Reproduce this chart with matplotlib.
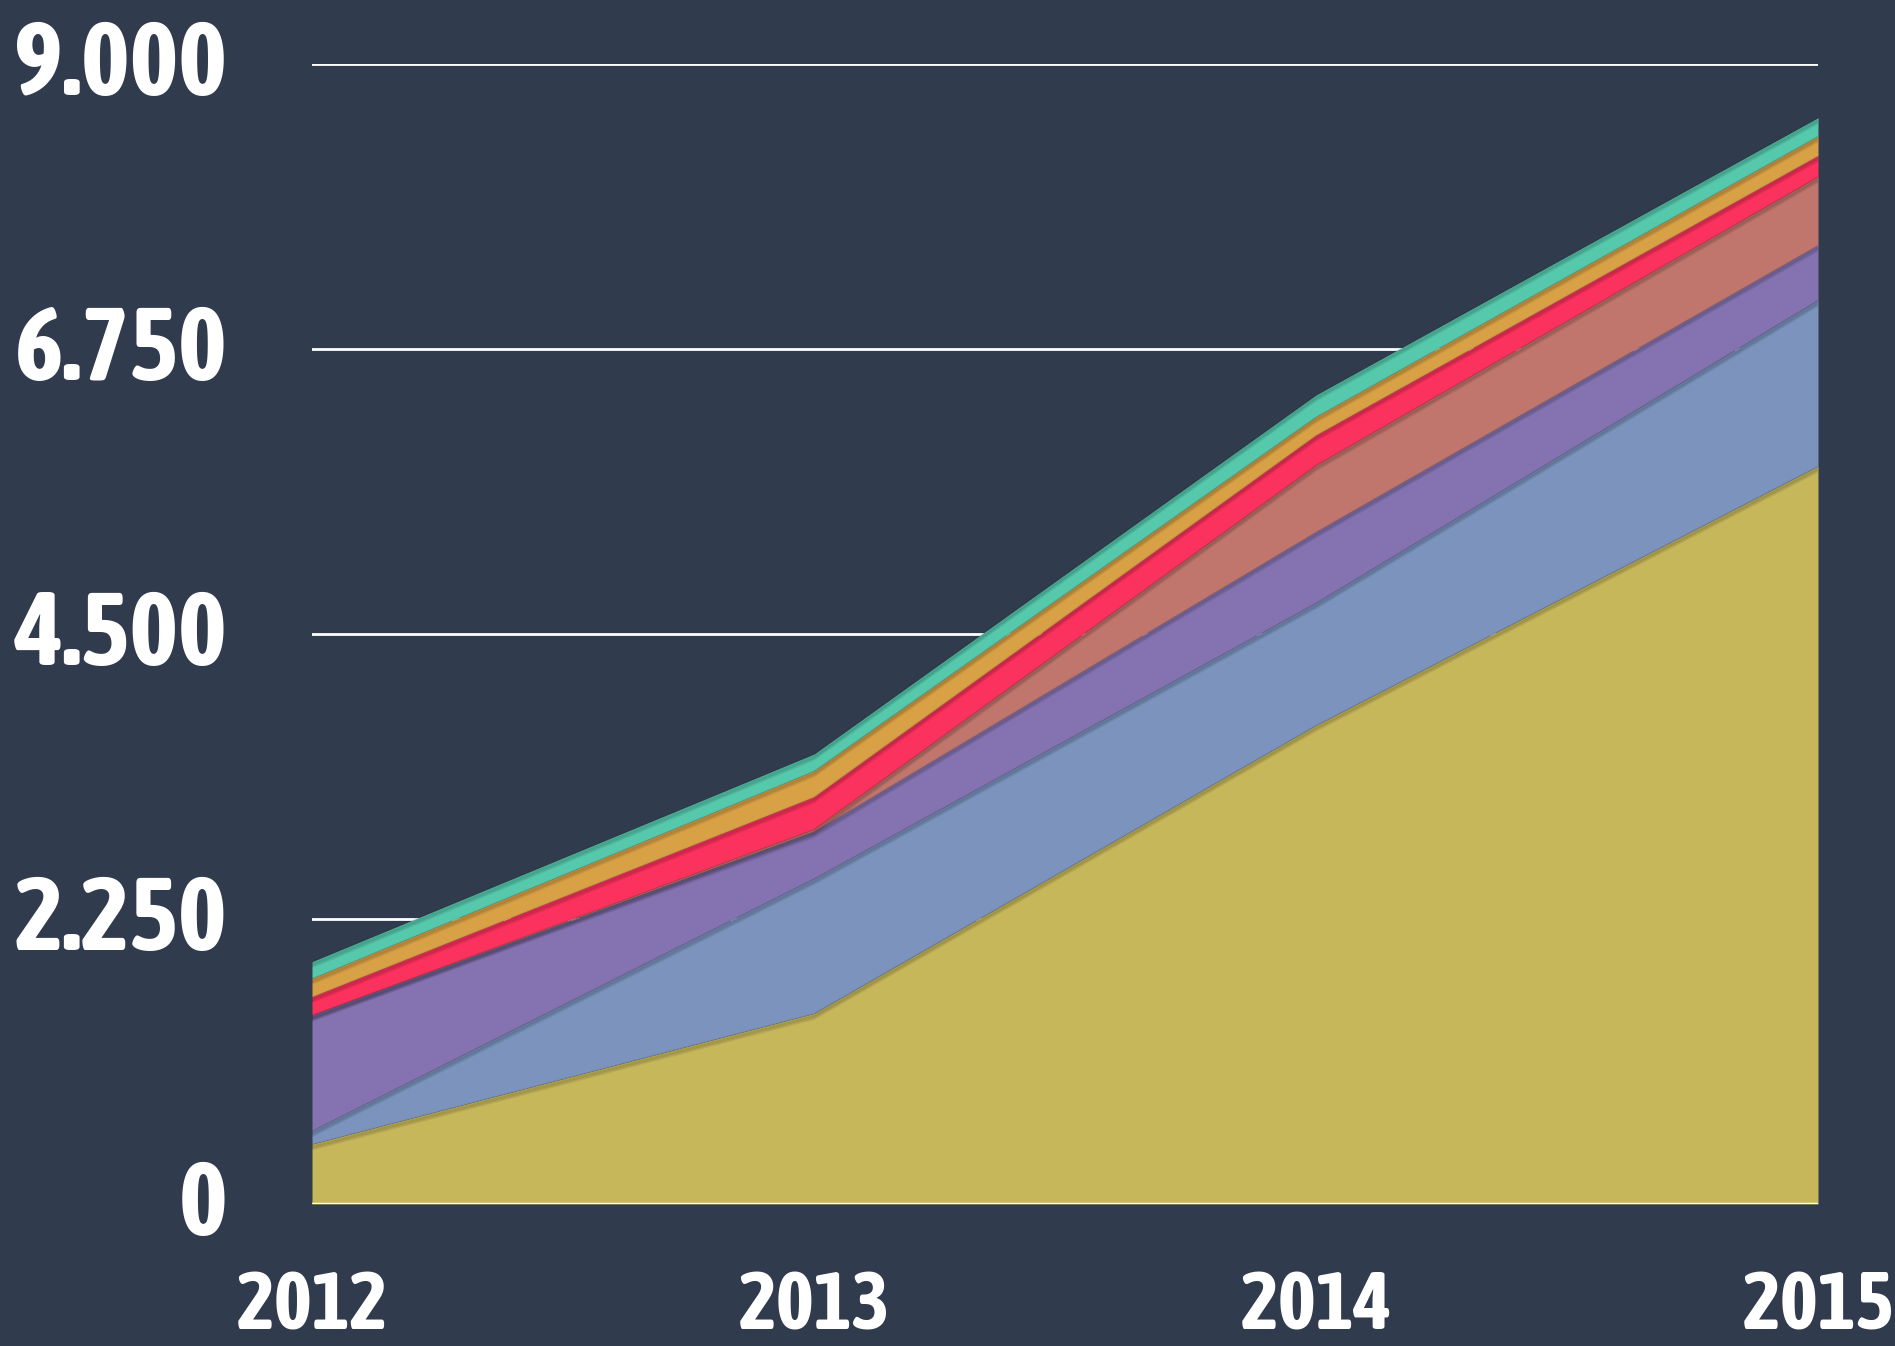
import matplotlib
matplotlib.use('Agg')
import matplotlib.pyplot as plt
import matplotlib.transforms as mtransforms
from matplotlib import font_manager as fm
from matplotlib.textpath import TextPath
import numpy as np

# Values (stacked layers, bottom to top)
years = [2012, 2013, 2014, 2015]
yellow = [474, 1505, 3780, 5826]
blue = [105, 1065, 967, 1311]
purple = [913, 370, 560, 434]
salmon = [0, 20, 527, 541]
red = [145, 255, 237, 165]
orange = [145, 205, 145, 155]
teal = [131, 132, 171, 144]

y_ticks = [0, 2250, 4500, 6750, 9000]
y_labels = ['0', '2.250', '4.500', '6.750', '9.000']
x_labels = ['2012', '2013', '2014', '2015']

layers = [yellow, blue, purple, salmon, red, orange, teal]
colors = ['#c6b75b', '#7b93bd', '#8473b0', '#c0766d', '#fb325d', '#d9a146', '#56c9ad']

bg = '#313b4e'

# the reference uses a tall condensed face; take one if there is any
narrow = [f for f in fm.fontManager.ttflist
          if any(k in (f.name + ' ' + f.fname).lower() for k in ('condensed', 'narrow'))
          or f.stretch not in ('normal', 400, 500)]
narrow.sort(key=lambda f: (0 if str(f.weight) in ('bold', '700') else 1, f.name))
if narrow:
    fp = fm.FontProperties(fname=narrow[0].fname)
else:
    fp = fm.FontProperties(family='Roboto', weight='bold')

fig = plt.figure(figsize=(18.95, 13.46), dpi=100, facecolor=bg)
ax = fig.add_axes([312 / 1895, 1 - 1204 / 1346, 1506 / 1895, 1140 / 1346])
ax.set_facecolor(bg)

# sizes: "9.000" about 212 px wide (digits 81 px tall at most), years ~0.75 of that
r = fig.canvas.get_renderer()
probe = fig.text(0, 0, '9.000', fontproperties=fp, fontsize=100)
w = probe.get_window_extent(r).width
probe.remove()
ysize = min(82, 100 * 212 / w)
xsize = min(62, ysize * 0.78)
fpy = fp.copy(); fpy.set_size(ysize)
fpx = fp.copy(); fpx.set_size(xsize)
digit_h = TextPath((0, 0), '0', prop=fp, size=ysize).get_extents().height
digit_h_px = digit_h * 100 / 72

# white gridlines behind the areas
for t in y_ticks[1:]:
    ax.axhline(t, color='white', lw=2, zorder=0)

stack = np.cumsum(np.array(layers, dtype=float), axis=0)
base = np.zeros(len(years))
for i, c in enumerate(colors):
    ax.fill_between(years, base, stack[i], color=c, lw=0, zorder=2)
    base = stack[i]

# soft shadow cast down by each layer onto the one below
for k in range(1, 5):
    off = mtransforms.offset_copy(ax.transData, fig=fig, x=0, y=-k * 0.9, units='points')
    for i in range(len(colors)):
        ax.plot(years, stack[i], color='black', alpha=0.07, lw=2.2,
                transform=off, zorder=3, solid_capstyle='butt')

ax.axhline(0, color='white', lw=2.5, zorder=4)

ax.set_xlim(2012, 2015)
ax.set_ylim(0, 9000)
ax.set_xticks(years)
ax.set_yticks(y_ticks)
ax.tick_params(length=0, labelbottom=False, labelleft=False)
for s in ax.spines.values():
    s.set_visible(False)

# y labels: right edge ~85 px left of the axes, digits centred ~6 px above each line
ytr = ax.get_yaxis_transform() + mtransforms.ScaledTranslation(
    -85 / 100, -(digit_h_px / 2 - 6) / 100, fig.dpi_scale_trans)
for t, lab in zip(y_ticks, y_labels):
    ax.text(0, t, lab, transform=ytr, ha='right', va='baseline',
            color='white', fontproperties=fpy, clip_on=False)

# year labels: baseline ~126 px below the axes
xtr = ax.get_xaxis_transform() + mtransforms.ScaledTranslation(0, -126 / 100, fig.dpi_scale_trans)
for yr, lab in zip(years, x_labels):
    ax.text(yr, 0, lab, transform=xtr, ha='center', va='baseline',
            color='white', fontproperties=fpx, clip_on=False)

fig.savefig('out.png', dpi=100, facecolor=bg)
